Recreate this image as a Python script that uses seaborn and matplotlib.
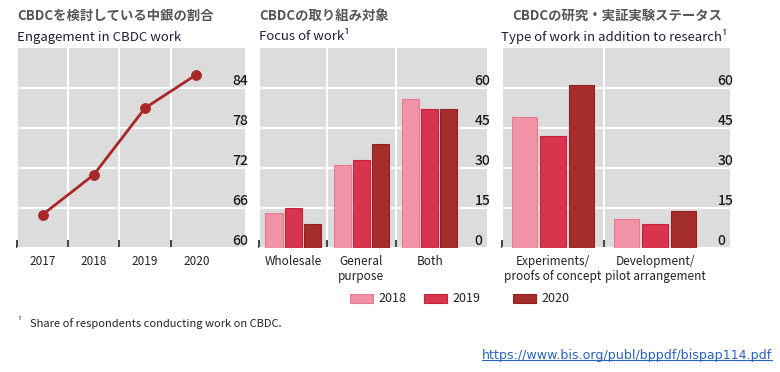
import matplotlib
matplotlib.use('Agg')
import matplotlib.pyplot as plt
import pandas as pd
import seaborn as sb
from matplotlib.patches import Patch
from matplotlib.lines import Line2D

# engagement (line)
years = [2017, 2018, 2019, 2020]
engagement = [65, 71, 81, 86]

# bar panels
hue_years = ['2018', '2019', '2020']
focus_cats = ['Wholesale', 'General\npurpose', 'Both']
focus_2018 = [13, 31, 56]
focus_2019 = [15, 33, 52]
focus_2020 = [9, 39, 52]

type_cats = ['Experiments/\nproofs of concept', 'Development/\npilot arrangement']
type_2018 = [49, 11]
type_2019 = [42, 9]
type_2020 = [61, 14]

line_yticks = [60, 66, 72, 78, 84]
bar_yticks = [0, 15, 30, 45, 60]

bar_colors = ['#f193a7', '#d9344e', '#a52d2b']
edge_colors = ['#e57b92', '#c8203c', '#8f2220']
line_color = '#a8282a'


def long_df(cats, a, b, c):
    rows = []
    for yr, vals in zip(hue_years, [a, b, c]):
        for cat, v in zip(cats, vals):
            rows.append({'cat': cat, 'year': yr, 'share': v})
    return pd.DataFrame(rows)


def style_axis(ax, bounds, xlim, ylim, yticks):
    ax.set_xlim(xlim)
    ax.set_ylim(ylim)
    ax.set_yticks(yticks)
    ax.set_xticks(bounds, minor=True)
    ax.grid(False)
    ax.grid(True, which='minor', axis='x', color='white', lw=1.5)
    ax.grid(True, which='major', axis='y', color='white', lw=1.5)
    ax.set_axisbelow(True)
    ax.tick_params(axis='x', which='minor', direction='in', length=6, width=1.3,
                   color='#333333', bottom=True)
    ax.tick_params(axis='x', which='major', length=0, pad=5, labelsize=8.5,
                   labelcolor='#222222')
    ax.tick_params(axis='y', which='both', left=False, right=False, labelleft=False,
                   labelright=True, pad=-12.5, labelsize=10, labelcolor='#1a1a1a')
    for lbl in ax.get_yticklabels():
        lbl.set_verticalalignment('bottom')
        lbl.set_fontweight('medium')
    for s in ax.spines.values():
        s.set_visible(False)
    ax.set_xlabel('')
    ax.set_ylabel('')


sb.set_style('whitegrid', {'axes.facecolor': '#dcdcdc', 'grid.color': 'white'})
plt.rcParams['font.family'] = ['Noto Sans CJK JP', 'DejaVu Sans']

W, H = 780, 372
fig = plt.figure(figsize=(7.8, 3.72), dpi=100)

def px_axes(left, right, top, bottom):
    return fig.add_axes([left / W, 1 - bottom / H, (right - left) / W, (bottom - top) / H])

ax1 = px_axes(17, 245, 48, 248)
ax2 = px_axes(259, 487, 48, 248)
ax3 = px_axes(502, 730, 48, 248)

# panel 1
sb.lineplot(x=years, y=engagement, ax=ax1, color=line_color, marker='o', markersize=7,
            linewidth=2, markeredgecolor=line_color)
ax1.set_xticks(years)
ax1.set_xticklabels([str(y) for y in years])
style_axis(ax1, [2016.5, 2017.5, 2018.5, 2019.5], (2016.5, 2020.95), (60, 90), line_yticks)

# panel 2 and 3
for ax, df, xr in [(ax2, long_df(focus_cats, focus_2018, focus_2019, focus_2020), 2.84),
                   (ax3, long_df(type_cats, type_2018, type_2019, type_2020), 1.735)]:
    sb.barplot(data=df, x='cat', y='share', hue='year', palette=bar_colors, ax=ax,
               width=0.84, gap=0.1, legend=False, saturation=1)
    for cont, ec in zip(ax.containers, edge_colors):
        for p in cont:
            p.set_edgecolor(ec)
            p.set_linewidth(0.8)
    n = df['cat'].nunique()
    style_axis(ax, [i - 0.5 for i in range(n)], (-0.5, xr), (0, 75), bar_yticks)

# titles
title_col = '#555555'
sub_col = '#1f1f3a'
titles = [(17, 'CBDCを検討している中銀の割合', 17, 'Engagement in CBDC work'),
          (259, 'CBDCの取り組み対象', 259, 'Focus of work¹'),
          (512, 'CBDCの研究・実証実験ステータス', 501, 'Type of work in addition to research¹')]
for tx, t, sx, s in titles:
    fig.text(tx / W, 1 - 16 / H, t, fontsize=9.6, weight='bold', color=title_col, va='center')
    fig.text(sx / W, 1 - 37 / H, s, fontsize=9.5, color=sub_col, va='center')

# legend
for x0, yr, fc, ec in zip([350, 424, 513], hue_years, bar_colors, edge_colors):
    fig.legend(handles=[Patch(facecolor=fc, edgecolor=ec, lw=0.8)], labels=[yr],
               loc='center left', bbox_to_anchor=(x0 / W, 1 - 299 / H), frameon=False,
               fontsize=9, handlelength=1.85, handleheight=0.7, handletextpad=0.45,
               borderpad=0, borderaxespad=0, labelcolor='#222222')

# footnote
fig.text(17 / W, 1 - 321 / H, '¹', fontsize=6.5, color='#222222', va='center')
fig.text(30 / W, 1 - 324 / H, 'Share of respondents conducting work on CBDC.', fontsize=8,
         color='#222222', va='center')

url = fig.text(482 / W, 1 - 355 / H, 'https://www.bis.org/publ/bppdf/bispap114.pdf',
               fontsize=9.1, family='DejaVu Sans', color='#2a62c0', va='center')
fig.canvas.draw()
bb = url.get_window_extent().transformed(fig.transFigure.inverted())
fig.add_artist(Line2D([bb.x0, bb.x1], [bb.y0 + 0.004, bb.y0 + 0.004], color='#2a62c0', lw=0.8,
                      transform=fig.transFigure))

fig.savefig('out.png', dpi=100)
